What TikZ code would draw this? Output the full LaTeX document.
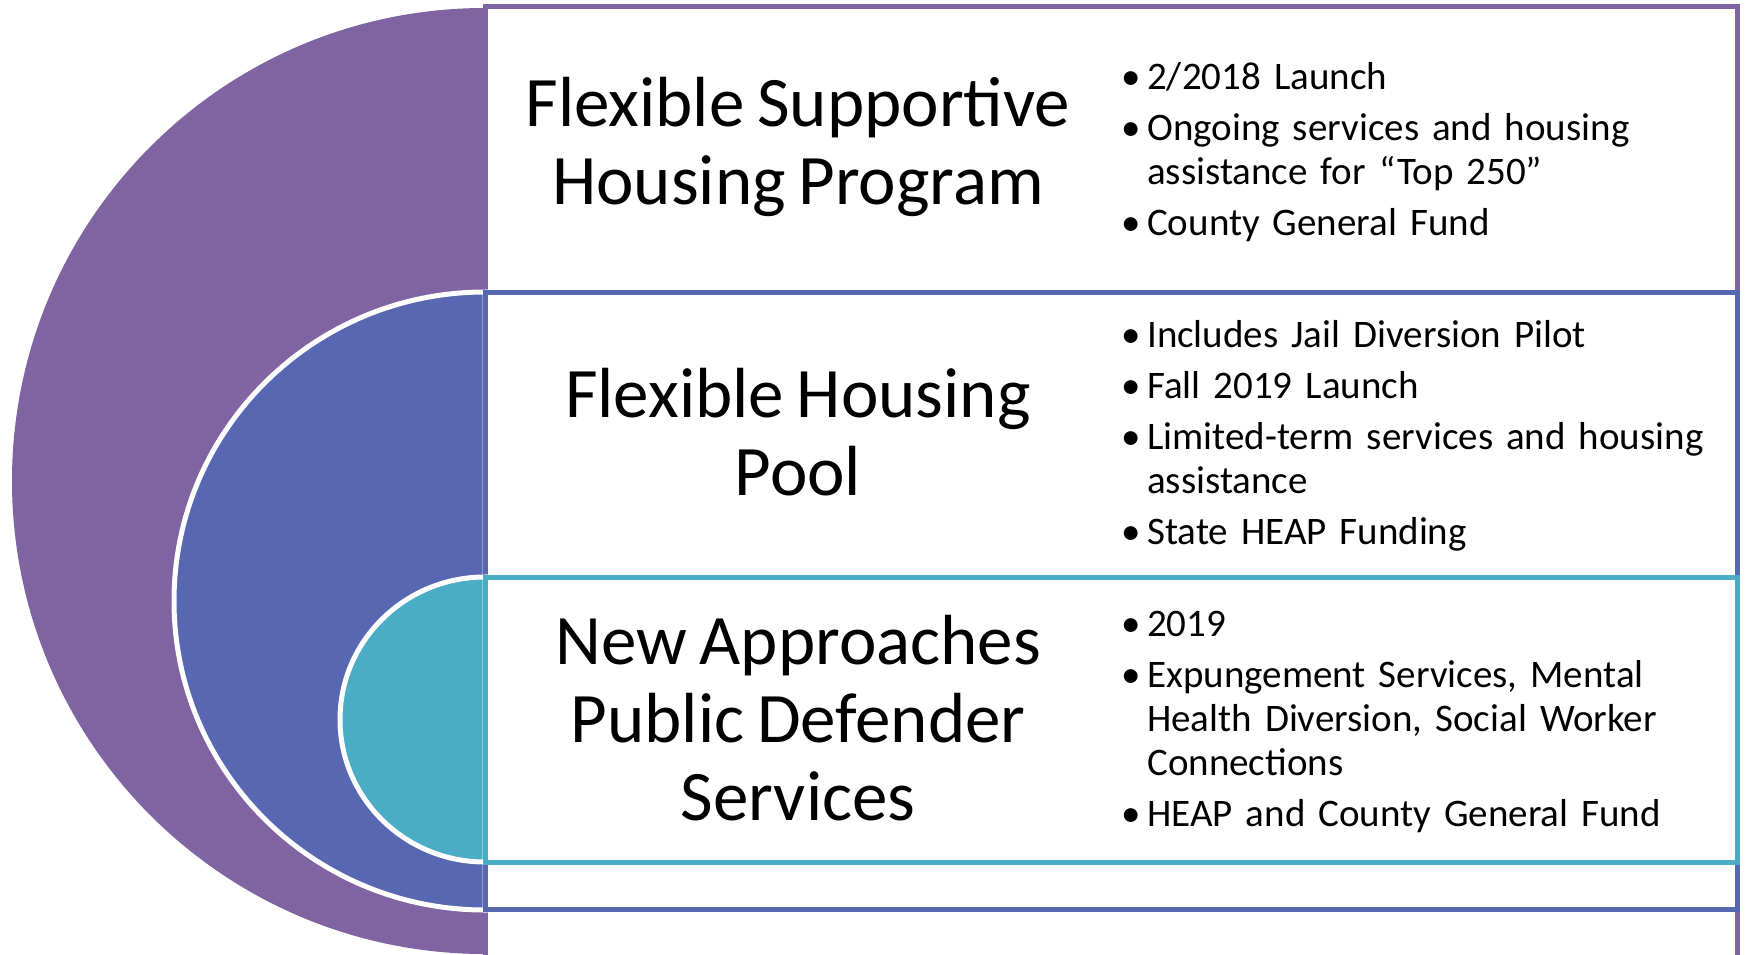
\documentclass[tikz,border=0pt]{standalone}
\usepackage{fontspec}
\setmainfont{Carlito}[WordSpace=0.8]
\definecolor{cpurple}{HTML}{8064A2}
\definecolor{cblue}{HTML}{5867B1}
\definecolor{cteal}{HTML}{4BACC6}
\newcommand{\bpt}[1]{\par\noindent\hangindent=26pt\hangafter=1\makebox[26pt][l]{•}#1\par}
\tikzset{
  frame/.style={line width=5pt, fill=white, line join=miter},
  title/.style={align=center, inner sep=0pt, font=\fontsize{71}{78}\selectfont},
  blist/.style={anchor=west, inner sep=0pt, text width=600pt, align=left,
    font=\fontsize{39}{44}\selectfont\setlength{\parskip}{7pt}}
}
\begin{document}
\begin{tikzpicture}[x=1pt,y=-1pt]
\useasboundingbox (0,0) rectangle (1745,955);
% purple
\fill[cpurple] (485,8) arc[start angle=270, end angle=90, x radius=473, y radius=473] -- cycle;
\draw[frame, draw=cpurple] (485,7) rectangle (1737.5,960);
% blue
\filldraw[fill=cblue, draw=white, line width=5pt] (485,292) arc[start angle=270, end angle=90, x radius=311, y radius=309] -- cycle;
\draw[frame, draw=cblue] (485,292.5) rectangle (1737.5,909.5);
% teal
\filldraw[fill=cteal, draw=white, line width=5pt] (485,577) arc[start angle=270, end angle=90, x radius=145, y radius=142.5] -- cycle;
\draw[frame, draw=cteal] (485,577.5) rectangle (1737.5,862);
% titles
\node[title] (t1) at (798,147) {Flexible Supportive\\Housing Program};
\node[title] (t2) at (798,432) {Flexible Housing\\Pool};
\node[title] (t3) at (798,718) {New Approaches\\Public Defender\\Services};
% bullets
\node[blist] (b1) at (1121,140) {%
\bpt{2/2018 Launch}
\bpt{Ongoing services and housing\newline assistance for “Top 250”}
\bpt{County General Fund}};
\node[blist] (b2) at (1121,424) {%
\bpt{Includes Jail Diversion Pilot}
\bpt{Fall 2019 Launch}
\bpt{Limited-term services and housing\newline assistance}
\bpt{State HEAP Funding}};
\node[blist] (b3) at (1121,709) {%
\bpt{2019}
\bpt{Expungement Services, Mental\newline Health Diversion, Social Worker\newline Connections}
\bpt{HEAP and County General Fund}};
\end{tikzpicture}
\end{document}
